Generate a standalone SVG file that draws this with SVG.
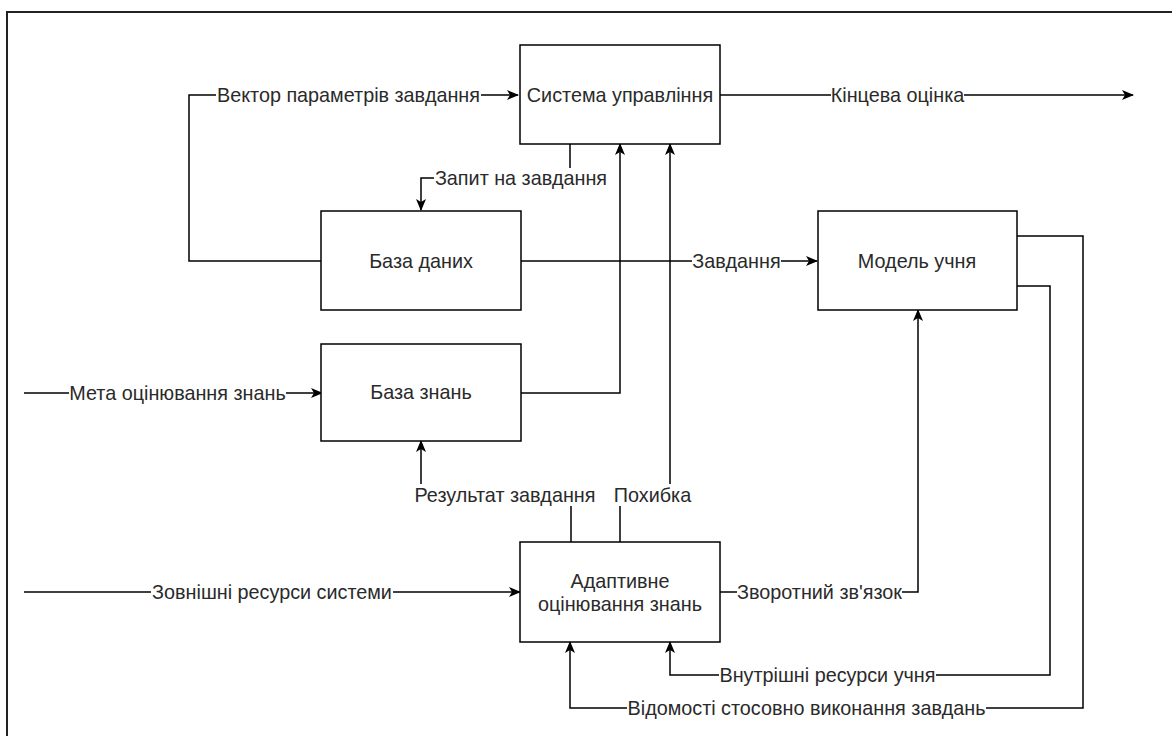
<svg xmlns="http://www.w3.org/2000/svg" width="1172" height="736" viewBox="0 0 1172 736">
<style>
.box{fill:#fff;stroke:#000;stroke-width:1.5}
.edge{fill:none;stroke:#000;stroke-width:1.5}
.t{font-family:"Liberation Sans",Arial,sans-serif;font-size:19.8px;fill:#2a2a2a;text-anchor:middle}
.bg{fill:#fff}
</style>
<defs>
<marker id="arr" viewBox="0 0 12 10" refX="11" refY="5" markerWidth="12" markerHeight="10" markerUnits="userSpaceOnUse" orient="auto">
<path d="M0,0 L12,5 L0,10 L3,5 z" fill="#000"/>
</marker>
</defs>
<rect width="1172" height="736" fill="#fff"/>
<rect x="7" y="12" width="1180" height="740" fill="none" stroke="#222" stroke-width="2"/>
<g id="connectors">
<path class="edge" d="M322,261 H189 V95 H518" marker-end="url(#arr)"/>
<path class="edge" d="M720,95 H1133" marker-end="url(#arr)"/>
<path class="edge" d="M570,144 V178 H421 V210" marker-end="url(#arr)"/>
<path class="edge" d="M521,261 H817" marker-end="url(#arr)"/>
<path class="edge" d="M521,393 H620 V144" marker-end="url(#arr)"/>
<path class="edge" d="M24,393 H322" marker-end="url(#arr)"/>
<path class="edge" d="M24,592 H520" marker-end="url(#arr)"/>
<path class="edge" d="M571,542 V495 H421 V441" marker-end="url(#arr)"/>
<path class="edge" d="M620,542 V495 H670 V144" marker-end="url(#arr)"/>
<path class="edge" d="M720,592 H918 V310" marker-end="url(#arr)"/>
<path class="edge" d="M1017,286 H1050 V675 H670 V642" marker-end="url(#arr)"/>
<path class="edge" d="M1017,236 H1083 V708 H570 V642" marker-end="url(#arr)"/>
<g id="edge-labels">
<rect class="bg" x="216" y="85" width="265" height="21"/>
<text class="t" x="348.5" y="102">Вектор параметрів завдання</text>
<rect class="bg" x="831" y="85" width="133" height="21"/>
<text class="t" x="897.5" y="102">Кінцева оцінка</text>
<rect class="bg" x="434" y="168" width="174" height="21"/>
<text class="t" x="521" y="185">Запит на завдання</text>
<rect class="bg" x="692" y="251" width="89" height="21"/>
<text class="t" x="736.5" y="268">Завдання</text>
<rect class="bg" x="69" y="383" width="217" height="21"/>
<text class="t" x="177.5" y="400">Мета оцінювання знань</text>
<rect class="bg" x="151" y="582" width="242" height="21"/>
<text class="t" x="272" y="599">Зовнішні ресурси системи</text>
<rect class="bg" x="414" y="484" width="182" height="22"/>
<text class="t" x="505" y="502">Результат завдання</text>
<rect class="bg" x="614" y="484" width="77" height="22"/>
<text class="t" x="652.5" y="502">Похибка</text>
<rect class="bg" x="737" y="582" width="165" height="21"/>
<text class="t" x="819.5" y="599">Зворотний зв'язок</text>
<rect class="bg" x="719" y="665" width="217" height="21"/>
<text class="t" x="827.5" y="682">Внутрішні ресурси учня</text>
<rect class="bg" x="627" y="698" width="359" height="21"/>
<text class="t" x="806.5" y="715">Відомості стосовно виконання завдань</text>
</g>
</g>
<g id="system">
<rect class="box" x="520" y="45" width="200" height="99"/>
<text class="t" x="620" y="102">Система управління</text>
</g>
<g id="database">
<rect class="box" x="321" y="211" width="200" height="99"/>
<text class="t" x="421" y="268">База даних</text>
</g>
<g id="student-model">
<rect class="box" x="818" y="211" width="199" height="99"/>
<text class="t" x="917" y="268">Модель учня</text>
</g>
<g id="knowledge-base">
<rect class="box" x="321" y="344" width="200" height="97"/>
<text class="t" x="421" y="399">База знань</text>
</g>
<g id="adaptive">
<rect class="box" x="520" y="542" width="200" height="100"/>
<text class="t" x="620" y="588">Адаптивне</text>
<text class="t" x="620" y="611">оцінювання знань</text>
</g>
</svg>
